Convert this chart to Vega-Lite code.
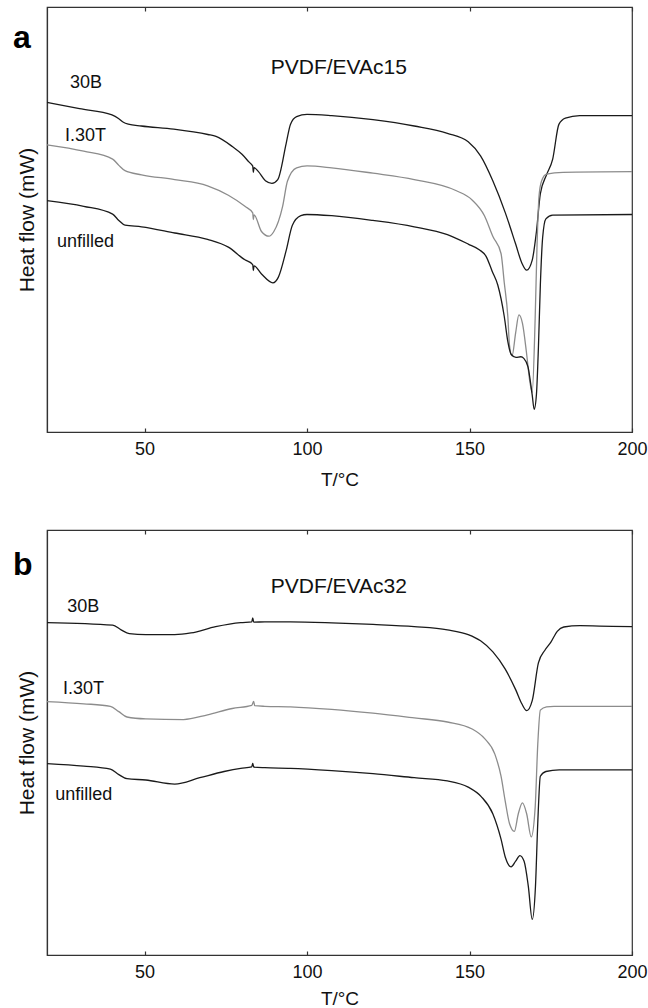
{
"$schema": "https://vega.github.io/schema/vega-lite/v6.json",
"padding": {"left": 12, "top": 5, "right": 5, "bottom": 0},
"spacing": 38,
"config": {
  "font": "Liberation Sans",
  "view": {"stroke": "#333333", "strokeWidth": 1.2},
  "axis": {"grid": false, "domainColor": "#333333", "domainWidth": 1.2, "tickColor": "#333333", "tickWidth": 1.2,
           "labelColor": "#111111", "titleColor": "#111111", "labelFont": "Liberation Sans", "titleFont": "Liberation Sans",
           "labelFontSize": 18, "titleFontSize": 19, "titleFontWeight": "normal"},
  "text": {"font": "Liberation Sans"}
},
"datasets": {
"curves": [
{"p":"a","s":"30B","T":20,"v":349},{"p":"a","s":"30B","T":30,"v":342.3},{"p":"a","s":"30B","T":40,"v":335.7},{"p":"a","s":"30B","T":42,"v":332},{"p":"a","s":"30B","T":43.5,"v":328},{"p":"a","s":"30B","T":45,"v":326},{"p":"a","s":"30B","T":49,"v":324},{"p":"a","s":"30B","T":59,"v":320.7},{"p":"a","s":"30B","T":69.5,"v":315},{"p":"a","s":"30B","T":72,"v":313},{"p":"a","s":"30B","T":77,"v":302.3},{"p":"a","s":"30B","T":80,"v":294},{"p":"a","s":"30B","T":82.2,"v":285.7},{"p":"a","s":"30B","T":83.3,"v":281.5},{"p":"a","s":"30B","T":83.5,"v":275},{"p":"a","s":"30B","T":83.7,"v":280},{"p":"a","s":"30B","T":85,"v":276},{"p":"a","s":"30B","T":87.2,"v":266},{"p":"a","s":"30B","T":89.2,"v":263.3},{"p":"a","s":"30B","T":91,"v":267.3},{"p":"a","s":"30B","T":93.6,"v":305.7},{"p":"a","s":"30B","T":94.9,"v":325.7},{"p":"a","s":"30B","T":96.8,"v":334},{"p":"a","s":"30B","T":100,"v":336.3},{"p":"a","s":"30B","T":107.6,"v":335},{"p":"a","s":"30B","T":120.3,"v":330.7},{"p":"a","s":"30B","T":133,"v":324},{"p":"a","s":"30B","T":143.2,"v":316.3},{"p":"a","s":"30B","T":149.6,"v":307.3},{"p":"a","s":"30B","T":153.4,"v":292.3},{"p":"a","s":"30B","T":157.2,"v":265.7},{"p":"a","s":"30B","T":161,"v":232.3},{"p":"a","s":"30B","T":164.2,"v":199},{"p":"a","s":"30B","T":166.1,"v":179},{"p":"a","s":"30B","T":167.6,"v":171.3},{"p":"a","s":"30B","T":169.3,"v":182},{"p":"a","s":"30B","T":170.6,"v":212.3},{"p":"a","s":"30B","T":171.8,"v":252.3},{"p":"a","s":"30B","T":173.7,"v":272.3},{"p":"a","s":"30B","T":175.6,"v":289},{"p":"a","s":"30B","T":177.5,"v":325.7},{"p":"a","s":"30B","T":179.5,"v":332.3},{"p":"a","s":"30B","T":183.9,"v":335},{"p":"a","s":"30B","T":200,"v":335},
{"p":"a","s":"I.30T","T":20,"v":304},{"p":"a","s":"I.30T","T":31.3,"v":297.3},{"p":"a","s":"I.30T","T":40.2,"v":289},{"p":"a","s":"I.30T","T":42.1,"v":282.3},{"p":"a","s":"I.30T","T":44,"v":276.7},{"p":"a","s":"I.30T","T":49.1,"v":272.3},{"p":"a","s":"I.30T","T":59.3,"v":267.3},{"p":"a","s":"I.30T","T":69.4,"v":260.7},{"p":"a","s":"I.30T","T":75.8,"v":250.7},{"p":"a","s":"I.30T","T":80.9,"v":239},{"p":"a","s":"I.30T","T":83.3,"v":232},{"p":"a","s":"I.30T","T":83.5,"v":225},{"p":"a","s":"I.30T","T":83.7,"v":230},{"p":"a","s":"I.30T","T":86,"v":212.3},{"p":"a","s":"I.30T","T":88.3,"v":207.3},{"p":"a","s":"I.30T","T":89.8,"v":212.3},{"p":"a","s":"I.30T","T":92.5,"v":239},{"p":"a","s":"I.30T","T":94,"v":265.7},{"p":"a","s":"I.30T","T":96.8,"v":279.7},{"p":"a","s":"I.30T","T":100,"v":281.7},{"p":"a","s":"I.30T","T":107.6,"v":279.7},{"p":"a","s":"I.30T","T":120.3,"v":274},{"p":"a","s":"I.30T","T":133,"v":267.3},{"p":"a","s":"I.30T","T":145.8,"v":255.7},{"p":"a","s":"I.30T","T":150.8,"v":245.7},{"p":"a","s":"I.30T","T":154.6,"v":229},{"p":"a","s":"I.30T","T":157.2,"v":207},{"p":"a","s":"I.30T","T":159.7,"v":189},{"p":"a","s":"I.30T","T":160.7,"v":158},{"p":"a","s":"I.30T","T":161.8,"v":122},{"p":"a","s":"I.30T","T":162.3,"v":92},{"p":"a","s":"I.30T","T":163.1,"v":80.7},{"p":"a","s":"I.30T","T":164.2,"v":105},{"p":"a","s":"I.30T","T":165.2,"v":124},{"p":"a","s":"I.30T","T":166.3,"v":115},{"p":"a","s":"I.30T","T":167.5,"v":85},{"p":"a","s":"I.30T","T":168.5,"v":55},{"p":"a","s":"I.30T","T":169.3,"v":42},{"p":"a","s":"I.30T","T":170.2,"v":120},{"p":"a","s":"I.30T","T":170.8,"v":200},{"p":"a","s":"I.30T","T":171.4,"v":250},{"p":"a","s":"I.30T","T":172.2,"v":266},{"p":"a","s":"I.30T","T":173.7,"v":273},{"p":"a","s":"I.30T","T":178.8,"v":275},{"p":"a","s":"I.30T","T":200,"v":275.7},
{"p":"a","s":"unfilled","T":20,"v":245},{"p":"a","s":"unfilled","T":31.3,"v":239},{"p":"a","s":"unfilled","T":40.2,"v":230.7},{"p":"a","s":"unfilled","T":42.1,"v":224},{"p":"a","s":"unfilled","T":44,"v":219},{"p":"a","s":"unfilled","T":49.1,"v":217.3},{"p":"a","s":"unfilled","T":59.3,"v":210.7},{"p":"a","s":"unfilled","T":69.4,"v":204},{"p":"a","s":"unfilled","T":75.8,"v":195.7},{"p":"a","s":"unfilled","T":80.9,"v":182.3},{"p":"a","s":"unfilled","T":83.3,"v":177.3},{"p":"a","s":"unfilled","T":83.5,"v":171},{"p":"a","s":"unfilled","T":83.7,"v":176},{"p":"a","s":"unfilled","T":86,"v":167.3},{"p":"a","s":"unfilled","T":89.5,"v":158},{"p":"a","s":"unfilled","T":91.2,"v":164},{"p":"a","s":"unfilled","T":93.6,"v":192.3},{"p":"a","s":"unfilled","T":95.5,"v":219},{"p":"a","s":"unfilled","T":98.1,"v":229},{"p":"a","s":"unfilled","T":100,"v":230.3},{"p":"a","s":"unfilled","T":107.6,"v":229},{"p":"a","s":"unfilled","T":120.3,"v":224},{"p":"a","s":"unfilled","T":133,"v":217.3},{"p":"a","s":"unfilled","T":143.2,"v":209},{"p":"a","s":"unfilled","T":149.6,"v":199},{"p":"a","s":"unfilled","T":153,"v":193},{"p":"a","s":"unfilled","T":155.1,"v":186},{"p":"a","s":"unfilled","T":157,"v":170},{"p":"a","s":"unfilled","T":158.7,"v":155.7},{"p":"a","s":"unfilled","T":160.7,"v":122.3},{"p":"a","s":"unfilled","T":161.8,"v":95.7},{"p":"a","s":"unfilled","T":162.8,"v":82.3},{"p":"a","s":"unfilled","T":164.3,"v":79},{"p":"a","s":"unfilled","T":165.8,"v":79.7},{"p":"a","s":"unfilled","T":166.7,"v":78},{"p":"a","s":"unfilled","T":168,"v":69},{"p":"a","s":"unfilled","T":169.3,"v":39},{"p":"a","s":"unfilled","T":169.9,"v":24},{"p":"a","s":"unfilled","T":170.6,"v":40},{"p":"a","s":"unfilled","T":171.2,"v":89},{"p":"a","s":"unfilled","T":171.8,"v":155.7},{"p":"a","s":"unfilled","T":172.5,"v":205.7},{"p":"a","s":"unfilled","T":173.5,"v":225.7},{"p":"a","s":"unfilled","T":175.6,"v":229.7},{"p":"a","s":"unfilled","T":200,"v":230.3},
{"p":"b","s":"30B","T":20,"v":352},{"p":"b","s":"30B","T":40.2,"v":349.3},{"p":"b","s":"30B","T":42.8,"v":344.3},{"p":"b","s":"30B","T":45.3,"v":340.3},{"p":"b","s":"30B","T":50.4,"v":339.3},{"p":"b","s":"30B","T":59.3,"v":339.3},{"p":"b","s":"30B","T":64.3,"v":341},{"p":"b","s":"30B","T":71.9,"v":347.7},{"p":"b","s":"30B","T":79.6,"v":352},{"p":"b","s":"30B","T":83,"v":352.7},{"p":"b","s":"30B","T":83.3,"v":357},{"p":"b","s":"30B","T":83.6,"v":352.5},{"p":"b","s":"30B","T":87,"v":352.7},{"p":"b","s":"30B","T":94.9,"v":352.7},{"p":"b","s":"30B","T":107.6,"v":351.7},{"p":"b","s":"30B","T":120.3,"v":350},{"p":"b","s":"30B","T":133,"v":347.7},{"p":"b","s":"30B","T":143.2,"v":344.3},{"p":"b","s":"30B","T":149.6,"v":339.3},{"p":"b","s":"30B","T":153.4,"v":332.7},{"p":"b","s":"30B","T":157.2,"v":321},{"p":"b","s":"30B","T":161,"v":302.7},{"p":"b","s":"30B","T":164.2,"v":281},{"p":"b","s":"30B","T":166.1,"v":266},{"p":"b","s":"30B","T":167.6,"v":258.7},{"p":"b","s":"30B","T":169.3,"v":269.3},{"p":"b","s":"30B","T":171.2,"v":309.3},{"p":"b","s":"30B","T":173.2,"v":322.7},{"p":"b","s":"30B","T":175,"v":331},{"p":"b","s":"30B","T":177,"v":342.7},{"p":"b","s":"30B","T":179,"v":347.3},{"p":"b","s":"30B","T":184,"v":348.7},{"p":"b","s":"30B","T":190,"v":348.3},{"p":"b","s":"30B","T":200,"v":347.7},
{"p":"b","s":"I.30T","T":20,"v":268.3},{"p":"b","s":"I.30T","T":31.3,"v":266},{"p":"b","s":"I.30T","T":39.5,"v":263.3},{"p":"b","s":"I.30T","T":42.1,"v":257.7},{"p":"b","s":"I.30T","T":44.6,"v":252},{"p":"b","s":"I.30T","T":50.4,"v":250},{"p":"b","s":"I.30T","T":62,"v":249.3},{"p":"b","s":"I.30T","T":69.4,"v":254.3},{"p":"b","s":"I.30T","T":77,"v":261},{"p":"b","s":"I.30T","T":83,"v":264.3},{"p":"b","s":"I.30T","T":83.6,"v":268.5},{"p":"b","s":"I.30T","T":83.9,"v":264},{"p":"b","s":"I.30T","T":87,"v":263.3},{"p":"b","s":"I.30T","T":94.9,"v":262.7},{"p":"b","s":"I.30T","T":107.6,"v":260},{"p":"b","s":"I.30T","T":120.3,"v":256},{"p":"b","s":"I.30T","T":133,"v":251},{"p":"b","s":"I.30T","T":143.2,"v":246.7},{"p":"b","s":"I.30T","T":150.8,"v":239.3},{"p":"b","s":"I.30T","T":154.6,"v":229.3},{"p":"b","s":"I.30T","T":157.8,"v":212.7},{"p":"b","s":"I.30T","T":159.7,"v":189.3},{"p":"b","s":"I.30T","T":161,"v":162.7},{"p":"b","s":"I.30T","T":162.3,"v":139.3},{"p":"b","s":"I.30T","T":163.8,"v":131},{"p":"b","s":"I.30T","T":165,"v":149.3},{"p":"b","s":"I.30T","T":166.3,"v":161},{"p":"b","s":"I.30T","T":167.6,"v":149.3},{"p":"b","s":"I.30T","T":169,"v":125},{"p":"b","s":"I.30T","T":170.2,"v":156},{"p":"b","s":"I.30T","T":171,"v":222.7},{"p":"b","s":"I.30T","T":171.8,"v":259.3},{"p":"b","s":"I.30T","T":173.7,"v":262.7},{"p":"b","s":"I.30T","T":176,"v":263.3},{"p":"b","s":"I.30T","T":200,"v":263.3},
{"p":"b","s":"unfilled","T":20,"v":202.7},{"p":"b","s":"unfilled","T":31.3,"v":200},{"p":"b","s":"unfilled","T":39.5,"v":196.7},{"p":"b","s":"unfilled","T":42.1,"v":191},{"p":"b","s":"unfilled","T":44.6,"v":186.7},{"p":"b","s":"unfilled","T":50.4,"v":185.3},{"p":"b","s":"unfilled","T":59.3,"v":181},{"p":"b","s":"unfilled","T":67,"v":187.7},{"p":"b","s":"unfilled","T":74.5,"v":194.3},{"p":"b","s":"unfilled","T":79.6,"v":197.7},{"p":"b","s":"unfilled","T":83,"v":199.3},{"p":"b","s":"unfilled","T":83.3,"v":203},{"p":"b","s":"unfilled","T":83.6,"v":199},{"p":"b","s":"unfilled","T":87,"v":198.3},{"p":"b","s":"unfilled","T":94.9,"v":197.7},{"p":"b","s":"unfilled","T":107.6,"v":195.3},{"p":"b","s":"unfilled","T":120.3,"v":192},{"p":"b","s":"unfilled","T":133,"v":187.7},{"p":"b","s":"unfilled","T":143.2,"v":184.3},{"p":"b","s":"unfilled","T":149.6,"v":177.7},{"p":"b","s":"unfilled","T":153.6,"v":167.7},{"p":"b","s":"unfilled","T":157.2,"v":149.3},{"p":"b","s":"unfilled","T":159.7,"v":122.7},{"p":"b","s":"unfilled","T":161.1,"v":102.7},{"p":"b","s":"unfilled","T":162.8,"v":93.3},{"p":"b","s":"unfilled","T":164.2,"v":99.3},{"p":"b","s":"unfilled","T":165.5,"v":105.3},{"p":"b","s":"unfilled","T":166.8,"v":99.3},{"p":"b","s":"unfilled","T":168.1,"v":72.7},{"p":"b","s":"unfilled","T":169.3,"v":37.7},{"p":"b","s":"unfilled","T":170.3,"v":72.7},{"p":"b","s":"unfilled","T":171,"v":139.3},{"p":"b","s":"unfilled","T":171.8,"v":189.3},{"p":"b","s":"unfilled","T":173.5,"v":194.3},{"p":"b","s":"unfilled","T":177.6,"v":196},{"p":"b","s":"unfilled","T":200,"v":196}
],
"labels": [
{"p":"a","k":"title","T":109.8,"v":379,"t":"PVDF/EVAc15"},
{"p":"a","k":"series","T":27.1,"v":364.7,"t":"30B"},
{"p":"a","k":"series","T":25.5,"v":308,"t":"I.30T"},
{"p":"a","k":"series","T":23.1,"v":195.7,"t":"unfilled"},
{"p":"a","k":"letter","T":9.5,"v":407,"t":"a"},
{"p":"b","k":"title","T":109.8,"v":383.3,"t":"PVDF/EVAc32"},
{"p":"b","k":"series","T":26.2,"v":362.7,"t":"30B"},
{"p":"b","k":"series","T":24.9,"v":276,"t":"I.30T"},
{"p":"b","k":"series","T":22.5,"v":164.3,"t":"unfilled"},
{"p":"b","k":"letter","T":9.5,"v":402.7,"t":"b"}
]
},
"vconcat": [
{
"width": 585, "height": 425,
"resolve": {"axis": {"x": "independent", "y": "independent"}},
"layer": [
 {"data": {"name": "curves"}, "transform": [{"filter": "datum.p == 'a'"}],
  "mark": {"type": "line", "interpolate": "monotone", "strokeWidth": 1.3},
  "encoding": {
   "x": {"field": "T", "type": "quantitative", "scale": {"domain": [20, 200]},
         "axis": {"title": "T/°C", "values": [50, 100, 150, 200], "tickSize": -4, "labelPadding": 12, "titlePadding": 12, "labelFlush": false}},
   "y": {"field": "v", "type": "quantitative", "scale": {"domain": [0, 425]},
         "axis": {"title": "Heat flow (mW)", "labels": false, "ticks": false, "titlePadding": 10, "titleFontSize": 21}},
   "color": {"field": "s", "type": "nominal", "scale": {"domain": ["30B", "I.30T", "unfilled"], "range": ["#1a1a1a", "#8c8c8c", "#1a1a1a"]}, "legend": null}
  }},
 {"data": {"name": "labels"}, "transform": [{"filter": "datum.p == 'a' && datum.k == 'title'"}],
  "mark": {"type": "text", "align": "center", "baseline": "alphabetic", "fontSize": 21, "color": "#111111"},
  "encoding": {
   "x": {"field": "T", "type": "quantitative", "axis": {"orient": "top", "title": null, "labels": false, "domain": false, "values": [50, 100, 150, 200], "tickSize": -4}},
   "y": {"field": "v", "type": "quantitative", "axis": null},
   "text": {"field": "t"}
  }},
 {"data": {"name": "labels"}, "transform": [{"filter": "datum.p == 'a' && datum.k == 'series'"}],
  "mark": {"type": "text", "align": "left", "baseline": "alphabetic", "fontSize": 18, "color": "#111111"},
  "encoding": {
   "x": {"field": "T", "type": "quantitative", "axis": null},
   "y": {"field": "v", "type": "quantitative", "axis": null},
   "text": {"field": "t"}
  }},
 {"data": {"name": "labels"}, "transform": [{"filter": "datum.p == 'a' && datum.k == 'letter'"}],
  "mark": {"type": "text", "align": "left", "baseline": "alphabetic", "fontSize": 32, "fontWeight": "bold", "color": "#000000"},
  "encoding": {
   "x": {"field": "T", "type": "quantitative", "axis": null},
   "y": {"field": "v", "type": "quantitative", "axis": null},
   "text": {"field": "t"}
  }}
]
},
{
"width": 585, "height": 425,
"resolve": {"axis": {"x": "independent", "y": "independent"}},
"layer": [
 {"data": {"name": "curves"}, "transform": [{"filter": "datum.p == 'b'"}],
  "mark": {"type": "line", "interpolate": "monotone", "strokeWidth": 1.3},
  "encoding": {
   "x": {"field": "T", "type": "quantitative", "scale": {"domain": [20, 200]},
         "axis": {"title": "T/°C", "values": [50, 100, 150, 200], "tickSize": -4, "labelPadding": 12, "titlePadding": 8, "labelFlush": false}},
   "y": {"field": "v", "type": "quantitative", "scale": {"domain": [0, 425]},
         "axis": {"title": "Heat flow (mW)", "labels": false, "ticks": false, "titlePadding": 10, "titleFontSize": 21}},
   "color": {"field": "s", "type": "nominal", "scale": {"domain": ["30B", "I.30T", "unfilled"], "range": ["#1a1a1a", "#8c8c8c", "#1a1a1a"]}, "legend": null}
  }},
 {"data": {"name": "labels"}, "transform": [{"filter": "datum.p == 'b' && datum.k == 'title'"}],
  "mark": {"type": "text", "align": "center", "baseline": "alphabetic", "fontSize": 21, "color": "#111111"},
  "encoding": {
   "x": {"field": "T", "type": "quantitative", "axis": {"orient": "top", "title": null, "labels": false, "domain": false, "values": [50, 100, 150, 200], "tickSize": -4}},
   "y": {"field": "v", "type": "quantitative", "axis": null},
   "text": {"field": "t"}
  }},
 {"data": {"name": "labels"}, "transform": [{"filter": "datum.p == 'b' && datum.k == 'series'"}],
  "mark": {"type": "text", "align": "left", "baseline": "alphabetic", "fontSize": 18, "color": "#111111"},
  "encoding": {
   "x": {"field": "T", "type": "quantitative", "axis": null},
   "y": {"field": "v", "type": "quantitative", "axis": null},
   "text": {"field": "t"}
  }},
 {"data": {"name": "labels"}, "transform": [{"filter": "datum.p == 'b' && datum.k == 'letter'"}],
  "mark": {"type": "text", "align": "left", "baseline": "alphabetic", "fontSize": 32, "fontWeight": "bold", "color": "#000000"},
  "encoding": {
   "x": {"field": "T", "type": "quantitative", "axis": null},
   "y": {"field": "v", "type": "quantitative", "axis": null},
   "text": {"field": "t"}
  }}
]
}
]
}
